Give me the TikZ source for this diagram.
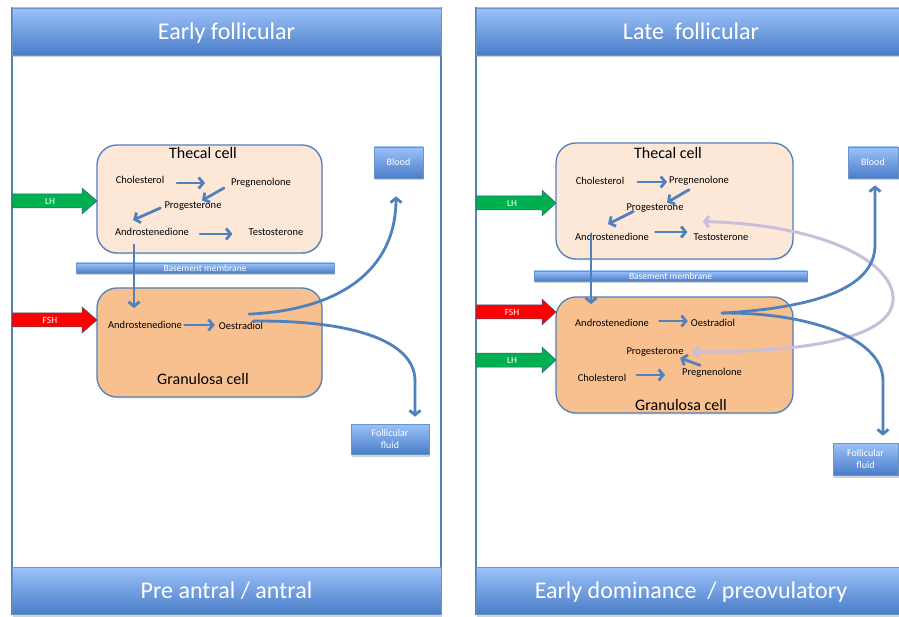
\documentclass[tikz,border=0pt]{standalone}
\usepackage{fontspec}
\setmainfont{Carlito}
\usetikzlibrary{arrows.meta,shadows,calc}

\definecolor{frameblue}{HTML}{4F81BD}
\definecolor{barTop}{HTML}{9CC2F8}
\definecolor{barBot}{HTML}{4A7DC8}
\definecolor{thecalfill}{HTML}{FDE8D8}
\definecolor{granfill}{HTML}{F9C08F}
\definecolor{lhgreen}{HTML}{00B050}
\definecolor{fshred}{HTML}{FF0000}
\definecolor{lilac}{HTML}{C9BEDB}

\tikzset{
  panel/.style={draw=frameblue, line width=1.3pt},
  bar/.style={draw=frameblue!85, line width=0.6pt, top color=barTop, bottom color=barBot,
    text=white, inner sep=0pt,
    drop shadow={shadow xshift=0.5pt, shadow yshift=-2.5pt, opacity=0.35}},
  titlebar/.style={bar, minimum width=429pt, minimum height=47pt, text depth=0pt,
    font=\fontsize{24}{28}\selectfont},
  smallbox/.style={bar, font=\fontsize{10}{11.5}\selectfont, align=center},
  cellbox/.style={draw=frameblue, line width=1.3pt, rounded corners=20pt, inner sep=0pt,
    drop shadow={shadow xshift=0.5pt, shadow yshift=-1.5pt, opacity=0.2}},
  cellname/.style={font=\fontsize{16}{18}\selectfont, inner sep=0pt},
  met/.style={font=\fontsize{10.5}{12}\selectfont, inner sep=0pt},
  hormlabel/.style={font=\fontsize{9.5}{11}\selectfont, text=white, inner sep=0pt},
  conn/.style={draw=frameblue, line width=2.8pt, line cap=round,
    -{Straight Barb[length=4.5pt,width=11pt]}},
  lilacconn/.style={draw=lilac, line width=3pt,
    {Straight Barb[length=4.5pt,width=11pt]}-{Straight Barb[length=4.5pt,width=11pt]}},
}

% block arrow: name, shaft start, head start, tip, centre y, colour, label
\newcommand\hormonearrow[7]{%
  \fill[#6, draw=frameblue!70!black, line width=0.5pt]
    (#2,#5-7) -- (#3,#5-7) -- (#3,#5-13) -- (#4,#5) -- (#3,#5+13) -- (#3,#5+7) -- (#2,#5+7) -- cycle;
  \node[hormlabel] (#1) at ({(#2+#3)/2+3},#5) {#7};
}

\begin{document}
\begin{tikzpicture}[x=1pt,y=-1pt]
\useasboundingbox (0,0) rectangle (899,617);
\clip (0,0) rectangle (899,617);
\fill[white] (0,0) rectangle (899,617);

% ---------------- left panel ----------------
\draw[panel] (12,8) rectangle (441,614);
\node[titlebar] (lhead) at (226.5,31.5) {Early follicular};
\node[titlebar] (lfoot) at (226.5,590.5) {Pre antral / antral};

\node[cellbox, fill=thecalfill, minimum width=225pt, minimum height=108pt] (lthecal) at (209.5,199) {};
\node[cellbox, fill=granfill, minimum width=225pt, minimum height=109pt] (lgran) at (209.5,342.5) {};
\node[cellname] (lthecalname) at (203,153) {Thecal cell};
\node[cellname] (lgranname) at (203,379) {Granulosa cell};

\node[smallbox, minimum width=258pt, minimum height=10pt, font=\fontsize{9.5}{10}\selectfont] (lbm) at (205,268) {Basement membrane};
\node[smallbox, minimum width=49pt, minimum height=31pt] (lblood) at (398.5,162.5) {Blood};
\node[smallbox, minimum width=78pt, minimum height=30pt] (lfluid) at (390,439) {Follicular\\fluid};

\hormonearrow{llh}{12}{82}{97}{201}{lhgreen}{LH}
\hormonearrow{lfsh}{12}{82}{97}{320}{fshred}{FSH}

\node[met] (lchol) at (140,180) {Cholesterol};
\node[met] (lpreg) at (261,183) {Pregnenolone};
\node[met] (lprog) at (193,206) {Progesterone};
\node[met] (landro) at (152,232) {Androstenedione};
\node[met] (ltest) at (276,232) {Testosterone};
\node[met] (lgandro) at (145,325) {Androstenedione};
\node[met] (loes) at (241,326) {Oestradiol};

\draw[conn] ($(lchol.east)+(12.5,3)$) -- ($(lpreg.west)+(-26,0)$);
\draw[conn] ($(lpreg.west)+(-7,5)$) -- ($(lprog.north)+(9,-1)$);
\draw[conn] ($(lprog.west)+(-4,2)$) -- ($(landro.north)+(-19,-8)$);
\draw[conn] ($(landro.east)+(11,2)$) -- ($(ltest.west)+(-16,2)$);
\draw[conn] ($(landro.south)+(-18,9)$) -- ($(lgandro.north)+(-11,-13)$);
\draw[conn] ($(lgandro.east)+(2.5,0)$) -- ($(loes.west)+(-4,-1)$);
\draw[conn] ($(loes.north)+(8,-8)$) .. controls (340,310) and (396,270) .. ($(lblood.south)+(-2.5,18)$);
\draw[conn] ($(loes.north east)+(-10,-1)$) .. controls (350,320) and (414,340) .. (415,380) -- ($(lfluid.north)+(25,-7)$);

% ---------------- right panel ----------------
\draw[panel] (476,8) rectangle (906,614);
\node[titlebar] (rhead) at (691,31.5) {Late\ \ follicular};
\node[titlebar] (rfoot) at (691,590.5) {Early dominance\ \ / preovulatory};

\node[cellbox, fill=thecalfill, minimum width=237pt, minimum height=116pt] (rthecal) at (674.5,201) {};
\node[cellbox, fill=granfill, minimum width=237pt, minimum height=116pt] (rgran) at (674.5,355) {};
\node[cellname] (rthecalname) at (668,153) {Thecal cell};
\node[cellname] (rgranname) at (681,405) {Granulosa cell};

\node[smallbox, minimum width=273pt, minimum height=10pt, font=\fontsize{9.5}{10}\selectfont] (rbm) at (670.5,276) {Basement membrane};
\node[smallbox, minimum width=50pt, minimum height=31pt] (rblood) at (873,162.5) {Blood};
\node[smallbox, minimum width=65pt, minimum height=32pt] (rfluid) at (865.5,459) {Follicular\\fluid};

\hormonearrow{rlh}{476}{542}{556}{203}{lhgreen}{LH}
\hormonearrow{rfsh}{476}{542}{556}{312}{fshred}{FSH}
\hormonearrow{rlhb}{476}{542}{556}{360}{lhgreen}{LH}

\node[met] (rchol) at (600,181) {Cholesterol};
\node[met] (rpreg) at (699,181) {Pregnenolone};
\node[met] (rprog) at (655,208) {Progesterone};
\node[met] (randro) at (612,237) {Androstenedione};
\node[met] (rtest) at (721,237) {Testosterone};
\node[met] (rgandro) at (612,323) {Androstenedione};
\node[met] (roes) at (713,323) {Oestradiol};
\node[met] (rgprog) at (655,352) {Progesterone};
\node[met] (rgchol) at (602,378) {Cholesterol};
\node[met] (rgpreg) at (712,373) {Pregnenolone};

\draw[conn] ($(rchol.east)+(13.5,1)$) -- ($(rpreg.west)+(-2,1)$);
\draw[conn] ($(rpreg.south)+(-10,4)$) -- ($(rprog.north)+(12,-1)$);
\draw[conn] ($(rprog.south west)+(7,-1)$) -- ($(randro.north)+(-4,-9)$);
\draw[conn] ($(randro.east)+(6.5,-5)$) -- ($(rtest.west)+(-6,-5)$);
\draw[conn] ($(randro.south)+(-21,-4)$) -- ($(rgandro.north)+(-21,-15)$);
\draw[conn] ($(rgandro.east)+(10.5,-2)$) -- ($(roes.west)+(-3,-2)$);
\draw[conn] ($(rgchol.east)+(10.5,-3)$) -- ($(rgpreg.west)+(-17,2)$);
\draw[conn] ($(rgpreg.north)+(-12,-3)$) -- ($(rgprog.east)+(-3.5,6)$);

\draw[lilacconn] ($(rgprog.east)+(8.5,0)$) .. controls (800,352) and (891,340) .. (893,300)
  .. controls (895,265) and (830,225) .. ($(rprog.south east)+(19,9)$);
\draw[conn] ($(roes.north)+(9,-6)$) .. controls (810,308) and (875,290) .. (875,245) -- ($(rblood.south)+(2,7)$);
\draw[conn] ($(roes.north)+(9,-6)$) .. controls (800,312) and (882,335) .. (883,380) -- ($(rfluid.north)+(17.5,-7)$);
\end{tikzpicture}
\end{document}
